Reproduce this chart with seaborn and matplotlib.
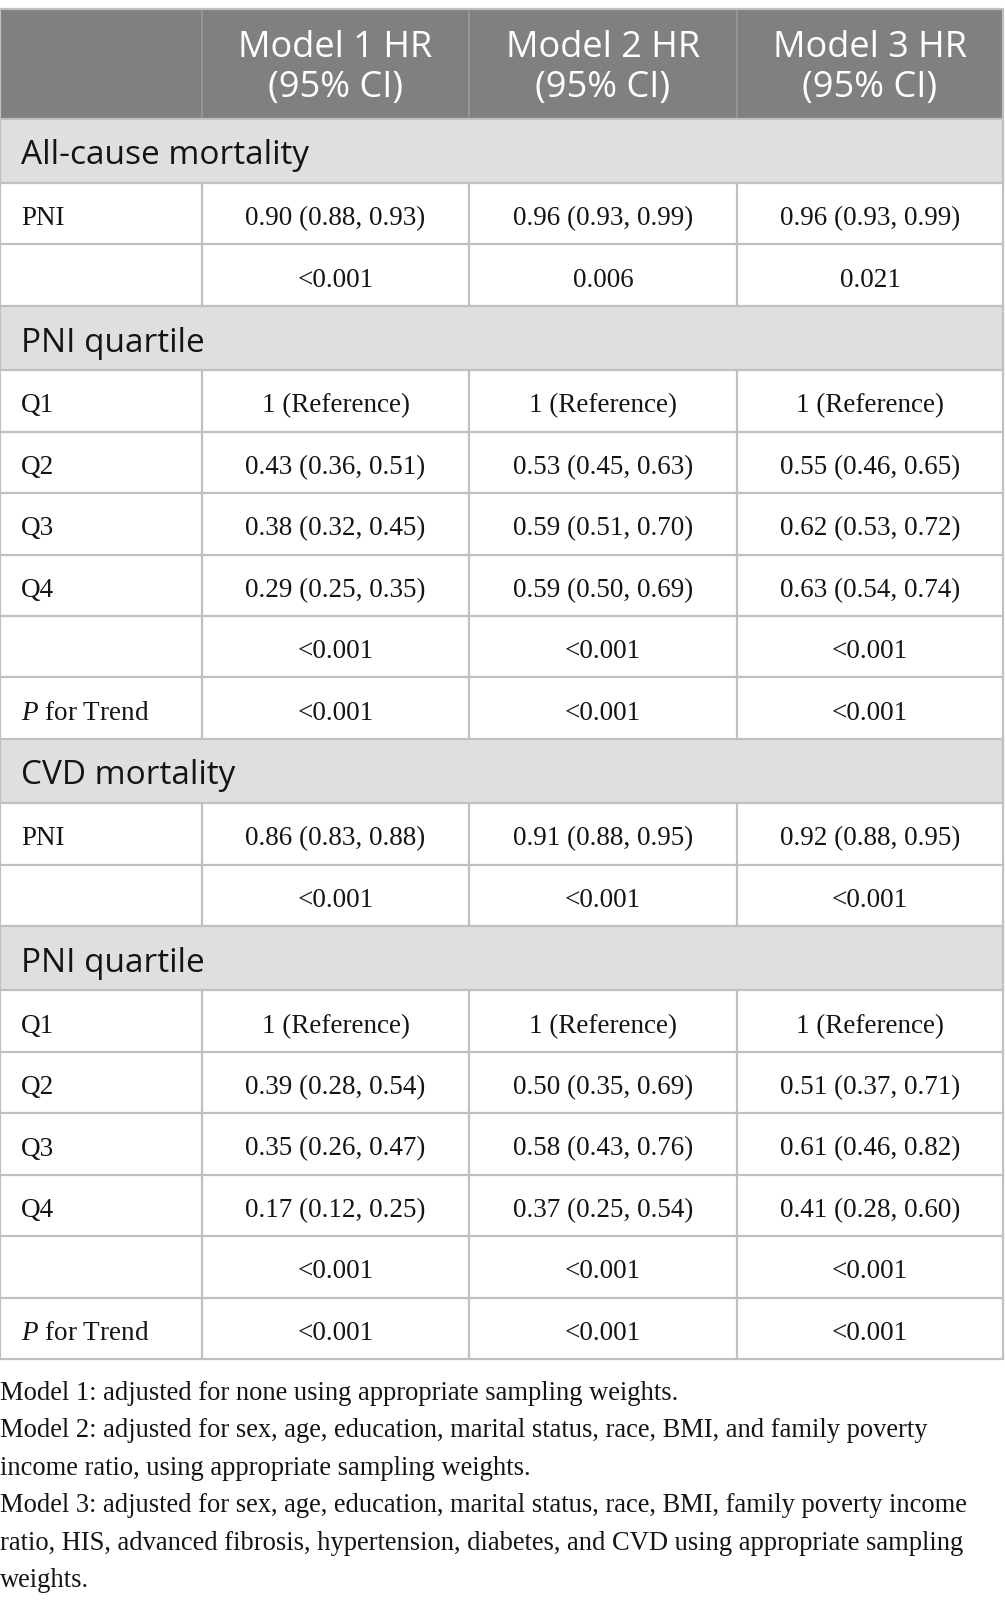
import matplotlib
matplotlib.use("Agg")
import matplotlib.pyplot as plt
import seaborn as sns
from matplotlib.patches import Rectangle

# ---------------- data ----------------
col_headers = ["Model 1 HR\n(95% CI)", "Model 2 HR\n(95% CI)", "Model 3 HR\n(95% CI)"]

sec_allcause = "All-cause mortality"
sec_quartile = "PNI quartile"
sec_cvd = "CVD mortality"

row_labels_pni = ["PNI", ""]
row_labels_q = ["Q1", "Q2", "Q3", "Q4", "", "P for Trend"]

allcause_pni = [
    ["0.90 (0.88, 0.93)", "0.96 (0.93, 0.99)", "0.96 (0.93, 0.99)"],
    ["<0.001", "0.006", "0.021"],
]
allcause_q = [
    ["1 (Reference)", "1 (Reference)", "1 (Reference)"],
    ["0.43 (0.36, 0.51)", "0.53 (0.45, 0.63)", "0.55 (0.46, 0.65)"],
    ["0.38 (0.32, 0.45)", "0.59 (0.51, 0.70)", "0.62 (0.53, 0.72)"],
    ["0.29 (0.25, 0.35)", "0.59 (0.50, 0.69)", "0.63 (0.54, 0.74)"],
    ["<0.001", "<0.001", "<0.001"],
    ["<0.001", "<0.001", "<0.001"],
]
cvd_pni = [
    ["0.86 (0.83, 0.88)", "0.91 (0.88, 0.95)", "0.92 (0.88, 0.95)"],
    ["<0.001", "<0.001", "<0.001"],
]
cvd_q = [
    ["1 (Reference)", "1 (Reference)", "1 (Reference)"],
    ["0.39 (0.28, 0.54)", "0.50 (0.35, 0.69)", "0.51 (0.37, 0.71)"],
    ["0.35 (0.26, 0.47)", "0.58 (0.43, 0.76)", "0.61 (0.46, 0.82)"],
    ["0.17 (0.12, 0.25)", "0.37 (0.25, 0.54)", "0.41 (0.28, 0.60)"],
    ["<0.001", "<0.001", "<0.001"],
    ["<0.001", "<0.001", "<0.001"],
]

footnotes = [
    "Model 1: adjusted for none using appropriate sampling weights.",
    "Model 2: adjusted for sex, age, education, marital status, race, BMI, and family poverty",
    "income ratio, using appropriate sampling weights.",
    "Model 3: adjusted for sex, age, education, marital status, race, BMI, family poverty income",
    "ratio, HIS, advanced fibrosis, hypertension, diabetes, and CVD using appropriate sampling",
    "weights.",
]

# ---------------- build row structure ----------------
rows = []
for sec, labels, vals in [
    (sec_allcause, row_labels_pni, allcause_pni),
    (sec_quartile, row_labels_q, allcause_q),
    (sec_cvd, row_labels_pni, cvd_pni),
    (sec_quartile, row_labels_q, cvd_q),
]:
    rows.append(("section", sec, None))
    for lab, v in zip(labels, vals):
        rows.append(("data", lab, v))

# ---------------- style ----------------
sns.set_theme(style="white")
plt.rcParams["mathtext.fontset"] = "custom"
plt.rcParams["mathtext.it"] = "Liberation Serif:italic"
plt.rcParams["mathtext.rm"] = "Liberation Serif"

W, H = 1005, 1605
fig = plt.figure(figsize=(W / 100, H / 100), dpi=100)
ax = fig.add_axes([0, 0, 1, 1])
ax.set_xlim(0, W)
ax.set_ylim(H, 0)
ax.axis("off")

header_bg = "#7f807f"
section_bg = "#e0dfe0"
line_c = "#c0c0c0"
txt_c = "#141414"
sans = ["Open Sans", "DejaVu Sans"]
serif = ["Liberation Serif", "DejaVu Serif"]
body_fs = 19.5

col_x = [0, 202, 469, 737, 1003]
top = 9
header_h = 109.5
sec_h = 64.5
data_h = 61.4

# header
ax.add_patch(Rectangle((col_x[0], top), col_x[-1] - col_x[0], header_h, color=header_bg, lw=0))
for i, h in enumerate(col_headers):
    cx = (col_x[i + 1] + col_x[i + 2]) / 2
    ax.text(cx, top + header_h / 2 + 4, h, ha="center", va="center", color="white",
            fontsize=26, family=sans, linespacing=1.15)
for x in col_x[1:-1]:
    ax.plot([x, x], [top, top + header_h], color="#9a9a9a", lw=1.2)

y = top + header_h
for kind, lab, vals in rows:
    if kind == "section":
        ax.add_patch(Rectangle((col_x[0], y), col_x[-1] - col_x[0], sec_h, color=section_bg, lw=0))
        ax.text(21, y + sec_h / 2 + 5, lab, ha="left", va="center", color=txt_c,
                fontsize=24, family=sans, fontweight=500)
        ax.plot([col_x[0], col_x[-1]], [y, y], color=line_c, lw=1.6)
        y += sec_h
    else:
        ax.plot([col_x[0], col_x[-1]], [y, y], color=line_c, lw=1.6)
        for x in col_x[1:-1]:
            ax.plot([x, x], [y, y + data_h], color=line_c, lw=1.6)
        label = r"$\it{P}$ for Trend" if lab == "P for Trend" else lab
        ax.text(21, y + data_h / 2 + 5, label, ha="left", va="center", color=txt_c,
                fontsize=body_fs, family=serif)
        for i, v in enumerate(vals):
            cx = (col_x[i + 1] + col_x[i + 2]) / 2
            ax.text(cx, y + data_h / 2 + 5, v, ha="center", va="center", color=txt_c,
                    fontsize=body_fs, family=serif)
        y += data_h
bottom = y
for seg in [([col_x[0], col_x[-1]], [bottom, bottom]),
            ([col_x[0], col_x[-1]], [top, top]),
            ([col_x[0], col_x[0]], [top, bottom]),
            ([col_x[-1], col_x[-1]], [top, bottom])]:
    ax.plot(*seg, color=line_c, lw=1.6)

# footnotes
fy = 1393
for line in footnotes:
    ax.text(0, fy, line, ha="left", va="center", color=txt_c, fontsize=19.1, family=serif)
    fy += 37.6

fig.savefig("out.png", dpi=100)
